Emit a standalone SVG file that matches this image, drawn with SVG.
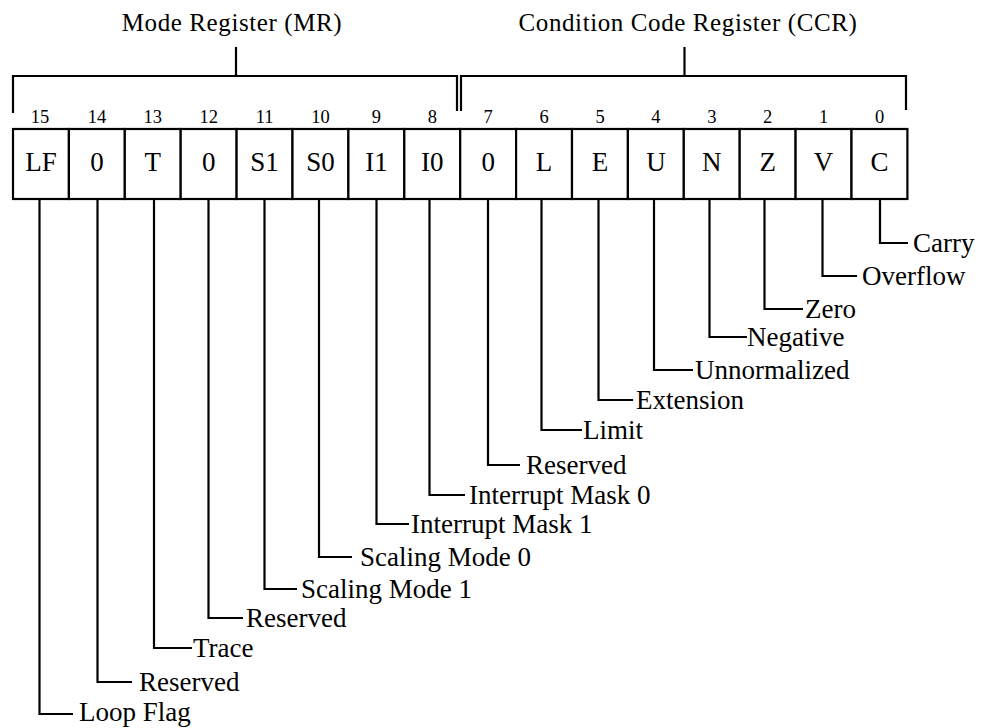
<svg xmlns="http://www.w3.org/2000/svg" width="992" height="728" viewBox="0 0 992 728">
<style>
text{font-family:"Liberation Serif","Times New Roman",serif;fill:#000}
.t{font-size:25px;letter-spacing:0.6px}
.n{font-size:18.5px;text-anchor:middle}
.c{font-size:27px;text-anchor:middle}
.l{font-size:27px}
.ln{stroke:#000;stroke-width:2.2;fill:none}
.cell{stroke:#000;stroke-width:2.2;fill:#fff}
</style>
<rect width="992" height="728" fill="#fff"/>
<g id="titles">
<g id="title-mr"><text class="t" x="232" y="31" text-anchor="middle">Mode Register (MR)</text></g>
<g id="title-ccr"><text class="t" x="688" y="31" text-anchor="middle">Condition Code Register (CCR)</text></g>
</g>
<g id="register">
<g id="bit15"><rect class="cell" x="13" y="129" width="55.9" height="70"/><text class="n" x="40" y="123">15</text><text class="c" x="41" y="171">LF</text></g>
<g id="bit14"><rect class="cell" x="68.9" y="129" width="55.9" height="70"/><text class="n" x="96.9" y="123">14</text><text class="c" x="96.9" y="171">0</text></g>
<g id="bit13"><rect class="cell" x="124.8" y="129" width="55.9" height="70"/><text class="n" x="152.8" y="123">13</text><text class="c" x="152.8" y="171">T</text></g>
<g id="bit12"><rect class="cell" x="180.7" y="129" width="55.9" height="70"/><text class="n" x="208.7" y="123">12</text><text class="c" x="208.7" y="171">0</text></g>
<g id="bit11"><rect class="cell" x="236.6" y="129" width="55.9" height="70"/><text class="n" x="264.6" y="123">11</text><text class="c" x="264.6" y="171">S1</text></g>
<g id="bit10"><rect class="cell" x="292.5" y="129" width="55.9" height="70"/><text class="n" x="320.5" y="123">10</text><text class="c" x="320.5" y="171">S0</text></g>
<g id="bit9"><rect class="cell" x="348.4" y="129" width="55.9" height="70"/><text class="n" x="376.4" y="123">9</text><text class="c" x="376.4" y="171">I1</text></g>
<g id="bit8"><rect class="cell" x="404.3" y="129" width="55.9" height="70"/><text class="n" x="432.3" y="123">8</text><text class="c" x="432.3" y="171">I0</text></g>
<g id="bit7"><rect class="cell" x="460.2" y="129" width="55.9" height="70"/><text class="n" x="488.2" y="123">7</text><text class="c" x="488.2" y="171">0</text></g>
<g id="bit6"><rect class="cell" x="516.1" y="129" width="55.9" height="70"/><text class="n" x="544.1" y="123">6</text><text class="c" x="544.1" y="171">L</text></g>
<g id="bit5"><rect class="cell" x="572" y="129" width="55.9" height="70"/><text class="n" x="600" y="123">5</text><text class="c" x="600" y="171">E</text></g>
<g id="bit4"><rect class="cell" x="627.9" y="129" width="55.9" height="70"/><text class="n" x="655.9" y="123">4</text><text class="c" x="655.9" y="171">U</text></g>
<g id="bit3"><rect class="cell" x="683.8" y="129" width="55.9" height="70"/><text class="n" x="711.8" y="123">3</text><text class="c" x="711.8" y="171">N</text></g>
<g id="bit2"><rect class="cell" x="739.7" y="129" width="55.9" height="70"/><text class="n" x="767.7" y="123">2</text><text class="c" x="767.7" y="171">Z</text></g>
<g id="bit1"><rect class="cell" x="795.6" y="129" width="55.9" height="70"/><text class="n" x="823.6" y="123">1</text><text class="c" x="823.6" y="171">V</text></g>
<g id="bit0"><rect class="cell" x="851.5" y="129" width="55.9" height="70"/><text class="n" x="879.5" y="123">0</text><text class="c" x="879.5" y="171">C</text></g>
</g>
<g id="labels">
<g id="lbl-carry"><text class="l" x="913" y="252">Carry</text></g>
<g id="lbl-overflow"><text class="l" x="862" y="285">Overflow</text></g>
<g id="lbl-zero"><text class="l" x="805" y="318">Zero</text></g>
<g id="lbl-negative"><text class="l" x="747" y="346">Negative</text></g>
<g id="lbl-unnormalized"><text class="l" x="695" y="379">Unnormalized</text></g>
<g id="lbl-extension"><text class="l" x="636" y="409">Extension</text></g>
<g id="lbl-limit"><text class="l" x="583" y="439">Limit</text></g>
<g id="lbl-reserved7"><text class="l" x="526" y="474">Reserved</text></g>
<g id="lbl-im0"><text class="l" x="469" y="504">Interrupt Mask 0</text></g>
<g id="lbl-im1"><text class="l" x="411" y="533">Interrupt Mask 1</text></g>
<g id="lbl-sm0"><text class="l" x="360" y="566">Scaling Mode 0</text></g>
<g id="lbl-sm1"><text class="l" x="301" y="598">Scaling Mode 1</text></g>
<g id="lbl-reserved12"><text class="l" x="246" y="627">Reserved</text></g>
<g id="lbl-trace"><text class="l" x="193" y="657">Trace</text></g>
<g id="lbl-reserved14"><text class="l" x="139" y="691">Reserved</text></g>
<g id="lbl-loopflag"><text class="l" x="79" y="721">Loop Flag</text></g>
</g>
<g id="connectors" class="ln">
<path d="M13 113 V76 H457 V111"/>
<path d="M236 47 V76"/>
<path d="M461 111 V76 H906 V110"/>
<path d="M684.5 47 V76"/>
<path d="M880 199 V243 H908"/>
<path d="M822.5 199 V276 H857"/>
<path d="M764.5 199 V309 H803"/>
<path d="M709.5 199 V337 H747"/>
<path d="M654 199 V370 H693"/>
<path d="M598.5 199 V400 H633"/>
<path d="M541.5 199 V430 H582"/>
<path d="M488 199 V465 H520"/>
<path d="M429.5 199 V495 H465"/>
<path d="M376.5 199 V524 H409"/>
<path d="M319 199 V557 H352"/>
<path d="M264.5 199 V589 H297"/>
<path d="M208.5 199 V618 H243"/>
<path d="M154 199 V648 H192"/>
<path d="M97.5 199 V682 H132"/>
<path d="M39.5 199 V714 H73"/>
</g>
</svg>
